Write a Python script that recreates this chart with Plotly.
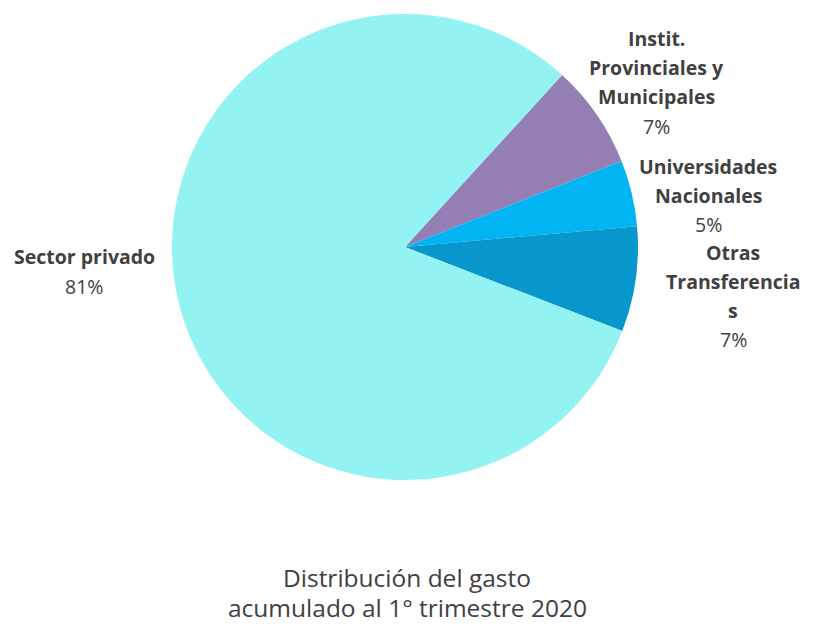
import plotly.graph_objects as go

labels = ["Instit. Provinciales y Municipales", "Universidades Nacionales",
          "Otras Transferencias", "Sector privado"]
values = [7.2, 4.6, 7.3, 80.9]
colors = ["#957EB4", "#00B5F1", "#0797CC", "#93F3F3"]
label_lines = [["Instit.", "Provinciales y", "Municipales"],
               ["Universidades", "Nacionales"],
               ["Otras", "Transferencia", "s"],
               ["Sector privado"]]
title_lines = ["Distribución del gasto", "acumulado al 1° trimestre 2020"]

W, H = 815, 626
cx, cy, r = 405, 247, 233

fig = go.Figure(go.Pie(
    labels=labels, values=values, sort=False, direction="clockwise",
    rotation=42.4, marker=dict(colors=colors, line=dict(width=0)),
    textinfo="none", hoverinfo="label+percent", showlegend=False,
    domain=dict(x=[(cx - r) / W, (cx + r) / W], y=[1 - (cy + r) / H, 1 - (cy - r) / H]),
))

# label placement (pixel centre x, first line y)
label_pos = [(656, 39), (708, 166), (733, 252), (84, 257)]
total = sum(values)
annotations = []
txtcol = "#404040"
fnt = dict(family="Open Sans", size=19.5, color=txtcol)
for lines, v, (lx, ly) in zip(label_lines, values, label_pos):
    y = ly
    for ln in lines:
        annotations.append(dict(x=lx / W, y=1 - y / H, xref="paper", yref="paper",
                                xanchor="center", yanchor="middle",
                                text="<b>%s</b>" % ln, showarrow=False, font=fnt))
        y += 29
    annotations.append(dict(x=lx / W, y=1 - y / H, xref="paper", yref="paper",
                            xanchor="center", yanchor="middle",
                            text="%d%%" % int(v / total * 100 + 0.5), showarrow=False,
                            font=fnt))

for i, t in enumerate(title_lines):
    annotations.append(dict(x=407 / W, y=1 - (577 + 30 * i) / H, xref="paper", yref="paper",
                            xanchor="center", yanchor="middle",
                            text=t, showarrow=False,
                            font=dict(family="Open Sans", size=24.5, color=txtcol)))

fig.update_layout(width=W, height=H, margin=dict(l=0, r=0, t=0, b=0),
                  paper_bgcolor="white", plot_bgcolor="white",
                  annotations=annotations)
fig.write_html("out.html")
